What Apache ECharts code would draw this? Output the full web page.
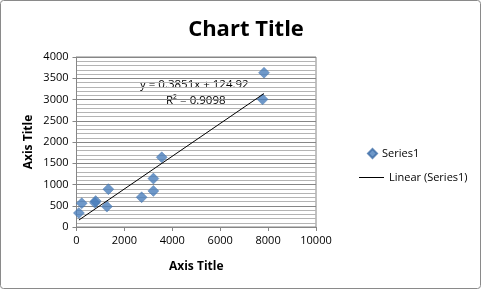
<!DOCTYPE html>
<html><head><meta charset="utf-8">
<script src="https://cdn.jsdelivr.net/npm/echarts@6/dist/echarts.min.js"></script>
<style>html,body{margin:0;padding:0;background:#fff}#c{width:481px;height:289px}</style>
</head><body><div id="c"></div>
<script>
const xValues = [100, 220, 770, 800, 1270, 1330, 2720, 3210, 3210, 3560, 7770, 7830];
const yValues = [330, 560, 570, 610, 480, 890, 700, 850, 1140, 1640, 3005, 3630];
const slope = 0.3851, intercept = 124.92, r2 = 0.9098;
const xTicks = [0, 2000, 4000, 6000, 8000, 10000];
const yTicks = [0, 500, 1000, 1500, 2000, 2500, 3000, 3500, 4000];

const pts = xValues.map((x, i) => [x, yValues[i]]);
const xmin = Math.min(...xValues), xmax = Math.max(...xValues);
const trend = [[xmin, slope * xmin + intercept], [xmax, slope * xmax + intercept]];
const font = '"Open Sans", "Liberation Sans", sans-serif';
const txt = {fontFamily: font, fontSize: 11, color: '#000'};

const chart = echarts.init(document.getElementById('c'), null, {renderer: 'canvas'});
chart.setOption({
  animation: false,
  title: {text: 'Chart Title', left: 241, top: 14, textAlign: 'center',
    textStyle: {fontFamily: font, fontSize: 22, fontWeight: 'bold', color: '#000'}},
  grid: {left: 76.5, top: 57, width: 239.5, height: 170, show: true, borderColor: '#868686', borderWidth: 1},
  xAxis: {type: 'value', min: xTicks[0], max: xTicks[xTicks.length - 1], interval: 2000,
    name: 'Axis Title', nameLocation: 'middle', nameGap: 34,
    nameTextStyle: {fontFamily: font, fontSize: 12, fontWeight: 'bold', color: '#000'},
    axisLine: {lineStyle: {color: '#868686'}},
    axisTick: {show: true, length: 4, lineStyle: {color: '#868686'}},
    axisLabel: Object.assign({margin: 8, formatter: v => String(v)}, txt),
    splitLine: {show: false}},
  yAxis: {type: 'value', min: yTicks[0], max: yTicks[yTicks.length - 1], interval: 500,
    name: 'Axis Title', nameLocation: 'middle', nameGap: 42, nameRotate: 90,
    nameTextStyle: {fontFamily: font, fontSize: 12, fontWeight: 'bold', color: '#000'},
    axisLine: {show: true, lineStyle: {color: '#868686'}},
    axisTick: {show: true, length: 4, lineStyle: {color: '#868686'}},
    axisLabel: Object.assign({margin: 8, formatter: v => String(v)}, txt),
    splitLine: {show: true, lineStyle: {color: '#868686', width: 1}},
    minorTick: {show: false, splitNumber: 5},
    minorSplitLine: {show: true, lineStyle: {color: '#b4b4b4', width: 1}}},
  legend: [
    {orient: 'vertical', left: 362, top: 143, itemGap: 0, itemWidth: 9, itemHeight: 9,
      textStyle: txt, data: [{name: 'Series1', icon: 'diamond'}]},
    {orient: 'vertical', left: 354, top: 167, itemGap: 0, itemWidth: 25, itemHeight: 1,
      textStyle: txt, data: [{name: 'Linear (Series1)', icon: 'rect'}]}
  ],
  graphic: [
    {type: 'text', left: 140, top: 79, style: {text: 'y = 0.3851x + 124.92', font: '11.5px ' + font, fill: '#000'}},
    {type: 'text', left: 166, top: 95, style: {text: 'R² = ' + r2, font: '11.5px ' + font, fill: '#000'}},
    {type: 'rect', shape: {x: 0.5, y: 0.5, width: 480, height: 288, r: 3}, style: {fill: 'none', stroke: '#8a8a8a', lineWidth: 1}}
  ],
  series: [
    {name: 'Series1', type: 'scatter', data: pts, symbol: 'diamond', symbolSize: 11,
      itemStyle: {color: '#4a7ebb', borderColor: '#3e6ea8', borderWidth: 0.5}, z: 3},
    {name: 'Linear (Series1)', type: 'line', data: trend, symbol: 'none', showSymbol: false,
      lineStyle: {color: '#000', width: 1}, itemStyle: {color: '#000'}, z: 4}
  ]
});
</script></body></html>
